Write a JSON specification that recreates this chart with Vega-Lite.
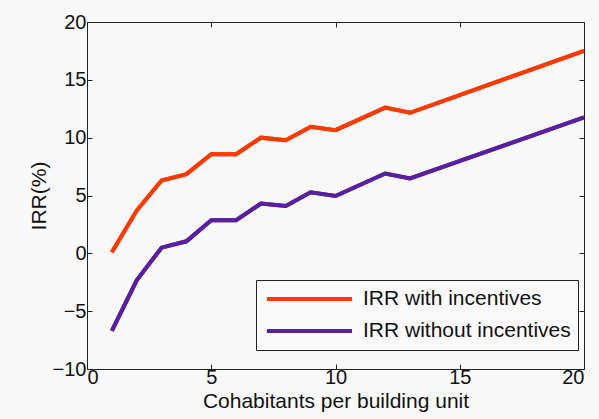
{
  "$schema": "https://vega.github.io/schema/vega-lite/v6.json",
  "autosize": {"type": "none"},
  "width": 497,
  "height": 347,
  "padding": {"left": 87, "top": 22, "right": 15, "bottom": 50},
  "background": "#f9f9f9",
  "config": {
    "view": {"stroke": "#222", "strokeWidth": 1},
    "font": "Liberation Sans",
    "axis": {
      "grid": false,
      "domainColor": "#222",
      "tickColor": "#222",
      "tickSize": -5,
      "labelFontSize": 20,
      "labelColor": "#111",
      "titleFontSize": 21,
      "titleFontWeight": "normal",
      "titleColor": "#111",
      "labelFont": "Liberation Sans",
      "titleFont": "Liberation Sans"
    },
    "legend": {
      "labelFont": "Liberation Sans",
      "labelFontSize": 21,
      "labelColor": "#111"
    }
  },
  "data": {
    "values": [
      {"x": 1, "irr": 0.1, "series": "IRR with incentives"},
      {"x": 2, "irr": 3.7, "series": "IRR with incentives"},
      {"x": 3, "irr": 6.3, "series": "IRR with incentives"},
      {"x": 4, "irr": 6.85, "series": "IRR with incentives"},
      {"x": 5, "irr": 8.57, "series": "IRR with incentives"},
      {"x": 6, "irr": 8.57, "series": "IRR with incentives"},
      {"x": 7, "irr": 10.0, "series": "IRR with incentives"},
      {"x": 8, "irr": 9.78, "series": "IRR with incentives"},
      {"x": 9, "irr": 10.94, "series": "IRR with incentives"},
      {"x": 10, "irr": 10.65, "series": "IRR with incentives"},
      {"x": 12, "irr": 12.6, "series": "IRR with incentives"},
      {"x": 13, "irr": 12.15, "series": "IRR with incentives"},
      {"x": 20, "irr": 17.5, "series": "IRR with incentives"},
      {"x": 1, "irr": -6.7, "series": "IRR without incentives"},
      {"x": 2, "irr": -2.34, "series": "IRR without incentives"},
      {"x": 3, "irr": 0.49, "series": "IRR without incentives"},
      {"x": 4, "irr": 1.04, "series": "IRR without incentives"},
      {"x": 5, "irr": 2.86, "series": "IRR without incentives"},
      {"x": 6, "irr": 2.86, "series": "IRR without incentives"},
      {"x": 7, "irr": 4.3, "series": "IRR without incentives"},
      {"x": 8, "irr": 4.1, "series": "IRR without incentives"},
      {"x": 9, "irr": 5.28, "series": "IRR without incentives"},
      {"x": 10, "irr": 4.96, "series": "IRR without incentives"},
      {"x": 12, "irr": 6.9, "series": "IRR without incentives"},
      {"x": 13, "irr": 6.47, "series": "IRR without incentives"},
      {"x": 20, "irr": 11.75, "series": "IRR without incentives"}
    ]
  },
  "layer": [
    {
      "mark": {"type": "line", "strokeWidth": 4},
      "encoding": {
        "x": {
          "field": "x", "type": "quantitative",
          "scale": {"domain": [0, 20], "nice": false},
          "axis": {"values": [0, 5, 10, 15, 20], "title": "Cohabitants per building unit", "labelPadding": 3, "titlePadding": 3}
        },
        "y": {
          "field": "irr", "type": "quantitative",
          "scale": {"domain": [-10, 20], "nice": false},
          "axis": {"values": [-10, -5, 0, 5, 10, 15, 20], "title": "IRR(%)", "labelPadding": 6, "titlePadding": 3}
        },
        "color": {
          "field": "series", "type": "nominal",
          "scale": {"domain": ["IRR with incentives", "IRR without incentives"], "range": ["#ff3a00", "#5a1fa0"]},
          "legend": {
            "title": null,
            "orient": "none",
            "legendX": 169,
            "legendY": 258,
            "symbolType": "stroke",
            "symbolStrokeWidth": 4,
            "symbolSize": 7225,
            "symbolOffset": 2,
            "clipHeight": 24,
            "strokeColor": "#222",
            "fillColor": "#fafafa",
            "padding": 7,
            "labelOffset": 9,
            "labelLimit": 400,
            "rowPadding": 8
          }
        }
      }
    },
    {
      "mark": {"type": "line", "strokeWidth": 4},
      "encoding": {
        "x": {
          "field": "x", "type": "quantitative",
          "axis": {"orient": "top", "values": [0, 5, 10, 15, 20], "labels": false, "title": null, "domain": false}
        },
        "y": {
          "field": "irr", "type": "quantitative",
          "axis": {"orient": "right", "values": [-10, -5, 0, 5, 10, 15, 20], "labels": false, "title": null, "domain": false}
        },
        "color": {"field": "series", "type": "nominal"}
      }
    }
  ],
  "resolve": {"axis": {"x": "independent", "y": "independent"}}
}
